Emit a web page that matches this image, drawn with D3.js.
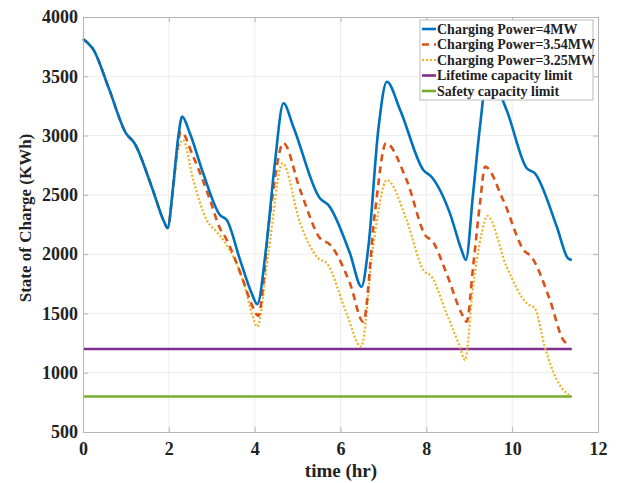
<!DOCTYPE html>
<html>
<head>
<meta charset="utf-8">
<script src="https://cdn.jsdelivr.net/npm/d3@7"></script>
<style>
  body { margin: 0; background: #fff; }
  text { font-family: "Liberation Serif", "Times New Roman", serif; font-weight: bold; fill: #222; }
</style>
</head>
<body>
<svg></svg>
<script>
// Defining data
const time4MW = [0, 0.25, 0.6, 1.0, 1.2, 1.6, 1.9, 1.97, 2.1, 2.22, 2.31, 2.49, 2.8, 3.19, 3.35, 3.66, 3.93, 4.06, 4.27, 4.47, 4.67, 4.9, 5.52, 5.72, 6.22, 6.49, 6.65, 6.88, 7.08, 7.39, 7.93, 8.12, 8.55, 8.82, 8.92, 9.09, 9.25, 9.43, 9.87, 10.34, 10.53, 11.04, 11.3, 11.39]
const soc4MW = [3815, 3720, 3400, 3020, 2935, 2569, 2265, 2220, 2569, 2990, 3160, 3019, 2682, 2330, 2288, 1951, 1670, 1578, 2063, 2766, 3272, 3075, 2471, 2414, 2007, 1725, 2063, 3047, 3454, 3216, 2710, 2653, 2344, 2035, 1951, 2513, 3075, 3530, 3216, 2724, 2682, 2231, 1965, 1950]
const time354MW = [0, 0.25, 0.6, 1.0, 1.2, 1.6, 1.9, 1.97, 2.1, 2.2, 2.28, 2.57, 2.96, 3.19, 3.31, 3.7, 3.95, 4.08, 4.36, 4.67, 5.06, 5.56, 5.71, 6.22, 6.53, 6.8, 7.06, 7.54, 8.0, 8.12, 8.47, 8.82, 8.94, 9.09, 9.25, 9.37, 9.79, 10.3, 10.41, 10.88, 11.19, 11.35]
const soc354MW = [3815, 3720, 3400, 3020, 2935, 2569, 2265, 2220, 2560, 2900, 3033, 2822, 2457, 2218, 2147, 1810, 1560, 1480, 2344, 2935, 2541, 2119, 2094, 1754, 1430, 2344, 2935, 2625, 2147, 2119, 1838, 1501, 1430, 1895, 2429, 2738, 2457, 2021, 1993, 1613, 1276, 1234]
const time325MW = [0, 0.25, 0.6, 1.0, 1.2, 1.6, 1.9, 1.97, 2.1, 2.2, 2.33, 2.57, 2.88, 3.11, 3.27, 3.77, 3.95, 4.06, 4.32, 4.65, 5.06, 5.48, 5.68, 6.14, 6.48, 6.76, 7.08, 7.54, 7.93, 8.12, 8.47, 8.78, 8.9, 9.09, 9.29, 9.42, 9.87, 10.34, 10.53, 10.76, 11.04, 11.35]
const soc325MW = [3815, 3720, 3400, 3020, 2935, 2569, 2265, 2220, 2550, 2850, 2963, 2625, 2288, 2190, 2119, 1725, 1480, 1388, 2007, 2766, 2260, 1965, 1923, 1501, 1220, 2063, 2625, 2288, 1866, 1810, 1501, 1220, 1107, 1725, 2176, 2322, 1895, 1585, 1543, 1220, 939, 805]
const limitTimes = [0, 11.39]
const lifetimeLimit = [1200, 1200]
const safetyLimit = [800, 800]
const xTicks = [0, 2, 4, 6, 8, 10, 12]
const yTicks = [500, 1000, 1500, 2000, 2500, 3000, 3500, 4000]

const series = [
    {name: 'Charging Power=4MW', t: time4MW, v: soc4MW, color: '#0072BD', width: 2.6, dash: null},
    {name: 'Charging Power=3.54MW', t: time354MW, v: soc354MW, color: '#D95319', width: 2.6, dash: '7,5'},
    {name: 'Charging Power=3.25MW', t: time325MW, v: soc325MW, color: '#EDB120', width: 2.2, dash: '2,2'},
    {name: 'Lifetime capacity limit', t: limitTimes, v: lifetimeLimit, color: '#7E2F8E', width: 2.6, dash: null},
    {name: 'Safety capacity limit', t: limitTimes, v: safetyLimit, color: '#77AC30', width: 2.6, dash: null}
]

const width = 621
const height = 483
const plotLeft = 83, plotRight = 598, plotTop = 17, plotBottom = 432

const svg = d3.select('svg')
    .attr('width', width)
    .attr('height', height)

const xScale = d3.scaleLinear().domain([0, 12]).range([plotLeft, plotRight])
const yScale = d3.scaleLinear().domain([500, 4000]).range([plotBottom, plotTop])

// grid
svg.append('g')
    .selectAll('line')
    .data(xTicks.slice(1, -1))
    .enter().append('line')
    .attr('x1', d => xScale(d)).attr('x2', d => xScale(d))
    .attr('y1', plotTop).attr('y2', plotBottom)
    .attr('stroke', '#ececec')
svg.append('g')
    .selectAll('line')
    .data(yTicks.slice(1, -1))
    .enter().append('line')
    .attr('x1', plotLeft).attr('x2', plotRight)
    .attr('y1', d => yScale(d)).attr('y2', d => yScale(d))
    .attr('stroke', '#ececec')

// lines
const line = d3.line()
    .x(d => xScale(d[0]))
    .y(d => yScale(d[1]))
    .curve(d3.curveMonotoneX)

series.slice().reverse().forEach(s => {
    svg.append('path')
        .datum(s.t.map((t, i) => [t, s.v[i]]))
        .attr('d', line)
        .attr('fill', 'none')
        .attr('stroke', s.color)
        .attr('stroke-width', s.width)
        .attr('stroke-dasharray', s.dash)
})

// axes
let generateAxes = () => {
    const xAxis = svg.append('g')
        .attr('transform', 'translate(0,' + plotBottom + ')')
        .call(d3.axisBottom(xScale).tickValues(xTicks).tickFormat(d3.format('d')).tickSizeInner(-5).tickSizeOuter(0).tickPadding(10))
    const yAxis = svg.append('g')
        .attr('transform', 'translate(' + plotLeft + ',0)')
        .call(d3.axisLeft(yScale).tickValues(yTicks).tickFormat(d3.format('d')).tickSizeInner(-5).tickSizeOuter(0).tickPadding(5))
    const xTop = svg.append('g')
        .attr('transform', 'translate(0,' + plotTop + ')')
        .call(d3.axisTop(xScale).tickValues(xTicks).tickSizeInner(-5).tickSizeOuter(0).tickFormat(''))
    const yRight = svg.append('g')
        .attr('transform', 'translate(' + plotRight + ',0)')
        .call(d3.axisRight(yScale).tickValues(yTicks).tickSizeInner(-5).tickSizeOuter(0).tickFormat(''))

    ;[xAxis, yAxis, xTop, yRight].forEach(g => {
        g.selectAll('path, line').attr('stroke', '#b5b5b5')
        g.selectAll('text').style('font-size', '18px').attr('fill', '#222')
    })
}
generateAxes()

svg.append('text')
    .attr('x', 341).attr('y', 477)
    .attr('text-anchor', 'middle')
    .style('font-size', '19px')
    .text('time (hr)')

svg.append('text')
    .attr('transform', 'translate(31,218) rotate(-90)')
    .attr('text-anchor', 'middle')
    .style('font-size', '17px')
    .text('State of Charge (KWh)')

// legend
const legend = svg.append('g')
legend.append('rect')
    .attr('x', 420).attr('y', 20)
    .attr('width', 173).attr('height', 80)
    .attr('fill', '#fff')
    .attr('stroke', '#bbb')

series.forEach((s, i) => {
    const y = 29 + i * 15.5
    legend.append('line')
        .attr('x1', 422).attr('x2', 436)
        .attr('y1', y).attr('y2', y)
        .attr('stroke', s.color)
        .attr('stroke-width', s.width)
        .attr('stroke-dasharray', s.dash)
    legend.append('text')
        .attr('x', 437).attr('y', y + 4.5)
        .style('font-size', '14px')
        .text(s.name)
})
</script>
</body>
</html>
